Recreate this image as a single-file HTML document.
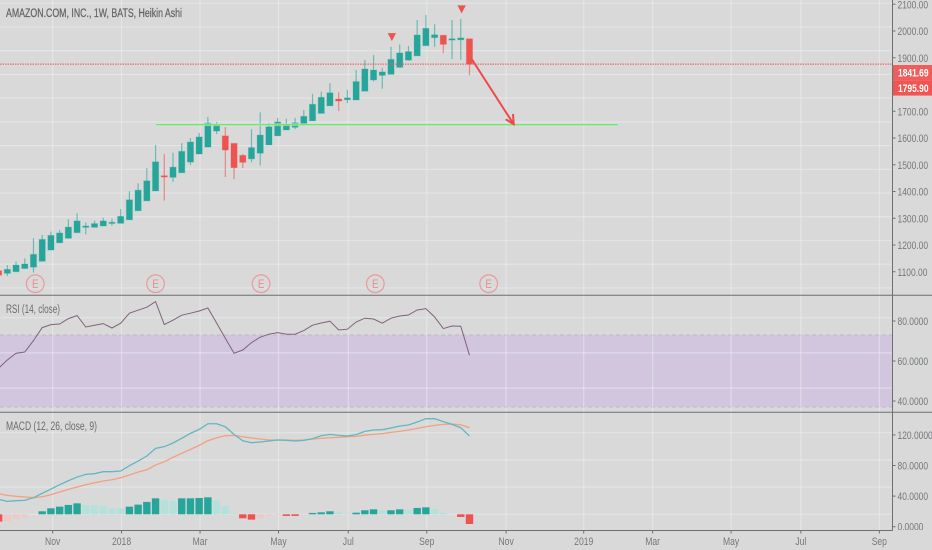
<!DOCTYPE html>
<html lang="en">
<head>
<meta charset="utf-8">
<title>AMZN Heikin Ashi chart</title>
<style>
html,body{margin:0;padding:0;background:#d9d9d9;}
#chart{display:block;width:932px;height:550px;filter:blur(0.3px);font-family:"Liberation Sans",sans-serif;}
</style>
</head>
<body>
<svg id="chart" xmlns="http://www.w3.org/2000/svg" width="932" height="550" viewBox="0 0 932 550">
  <defs>
    <clipPath id="price-clip"><rect x="0" y="0" width="932" height="295"></rect></clipPath>
    <clipPath id="macd-clip"><rect x="0" y="413" width="932" height="117"></rect></clipPath>
  </defs>
  <rect x="0" y="0" width="932" height="550" fill="#d9d9d9"></rect>
  <g id="layer-band"></g>
  <g id="layer-grid"></g>
  <g id="layer-events"></g>
  <g id="layer-candles"></g>
  <g id="layer-rsi"></g>
  <g id="layer-macd"></g>
  <g id="layer-drawings"></g>
  <g id="layer-axes"></g>
</svg>
<script>
// ---- data ----
const barHigh  = [1107,1125,1138,1150,1225,1238,1250,1256,1296,1319,1284,1291,1302,1298,1334,1401,1431,1487,1574,1540,1545,1581,1600,1619,1679,1660,1641,1580,1540,1633,1696,1657,1675,1672,1675,1705,1765,1773,1805,1771,1780,1854,1892,1910,1862,1941,1950,1944,2041,2060,2025,1985,2041,2045,1971];
const barLow   = [1084,1084,1100,1112,1097,1139,1181,1208,1225,1246,1240,1266,1271,1272,1281,1294,1328,1365,1402,1366,1436,1470,1499,1540,1566,1615,1454,1446,1488,1509,1497,1574,1608,1630,1633,1649,1664,1692,1720,1701,1730,1742,1775,1811,1784,1838,1863,1889,1907,1945,1941,1917,1895,1892,1835];
const barOpen  = [1104,1094,1100,1112,1117,1139,1181,1208,1225,1246,1266,1266,1271,1281,1281,1294,1328,1365,1402,1459,1453,1470,1510,1540,1566,1626,1608,1580,1535,1522,1543,1574,1608,1630,1640,1649,1664,1692,1720,1746,1743,1742,1775,1817,1834,1838,1864,1891,1907,1945,1975,1984,1966,1967,1971];
const barClose = [1087,1109,1125,1129,1165,1221,1236,1245,1267,1290,1271,1280,1290,1285,1307,1369,1405,1440,1511,1454,1491,1550,1585,1604,1656,1649,1555,1489,1509,1564,1611,1642,1660,1652,1657,1681,1726,1752,1769,1738,1750,1811,1858,1854,1847,1894,1918,1923,1985,2010,1986,1950,1971,1974,1876];
const rsiValues = [56.4,60.5,63.9,64.5,70.2,76.7,78.2,78.5,81.2,82.7,77,77.9,78.7,76.5,78.9,83.9,85.4,86.9,89.7,78.2,80.4,82.9,83.9,85,86.5,79,71.4,63.9,65.5,69.2,71.9,73.4,74.2,73.4,73.4,75.2,77.9,79,79.9,75.5,75.9,79.5,81.4,81,78.9,81.4,82.5,83,85.5,86.2,82,76.2,77.5,77.4,62.9];
const macdLine = [35.7,33.1,34,34.4,37.9,43.6,49.2,54.9,60.1,64.9,68.4,69.3,71.9,71.9,72.8,79.7,85.8,92.4,102.4,104.6,109.4,115.5,122,127.2,134.6,134.6,130.7,120.7,112.4,109.8,110.7,112,113.3,112.9,112,112.9,115,119,120.7,119.4,118.5,120.3,124.6,126.4,126.8,129,131.6,132.9,136.8,141.2,141.2,137.3,133.8,129.4,118.5];
const signalLine = [43.1,41,39.7,38.8,37.9,39.2,41.8,45.3,48.8,51.9,54.9,57.5,59.7,61.4,64,67.5,71.5,74.5,80.6,85,90.6,95.9,101.1,106.3,112.4,116.3,119,119.4,117.6,115.9,114.6,113.3,113.3,113.3,112.9,113.3,114.6,115.5,116.3,116.8,117.6,118.1,119.8,120.7,121.6,123.3,124.6,126.4,128.5,130.7,132.5,133.8,134.2,133.3,129.4];
const macdHist = [-10.7,-9.8,-6.8,-4.9,0,4.4,8.8,11.2,13.7,16.1,13.7,13.2,12.2,8.8,8.6,11.2,14.2,18.1,23.4,21.5,19.5,23.4,23.4,23.9,24.9,20,12.2,1.5,-5.9,-7.8,-5.9,-2,-1,-2.4,-2.4,-0.5,2,2.9,4.4,2.9,1,2.4,5.9,7.3,5.4,5.9,7.3,6.8,9.3,10.2,7.8,2.4,0,-3.9,-14.2];
const timeLabels = ["Nov","2018","Mar","May","Jul","Sep","Nov","2019","Mar","May","Jul","Sep"];
const timeIndex  = [6.2,14.1,23.1,32.1,40.1,49.1,58.2,67.1,75,84,92,101];
const priceTicks = [2100,2000,1900,1700,1600,1500,1400,1300,1200,1100,1000];
const rsiTicks   = [80,60,40];
const macdTicks  = [120,80,40,0];
const earningsIndex = [4.2,18,30.1,43.2,56.2];
const signalMarks = [{i:45.1,price:1992},{i:53.1,price:2096}];
const priceTags = ["1841.69","1795.90"];
const rsiBand = [73,37];
const supportPrice = 1650;

// ---- scales ----
const barStep = 8.72, barOrigin = -1.4;
function xAt(i){ return barOrigin + barStep * i; }
function yPrice(p){ return 31 + (2000 - p) * 0.2675; }
function yRsi(v){ return 361 - (v - 60) * 2; }
function yMacd(v){ return 526.7 - v * 0.765; }
function yHist(v){ return 514.3 - v * 0.683; }

const NS = "http://www.w3.org/2000/svg";
function make(tag, attrs, parent){
  const el = document.createElementNS(NS, tag);
  for (const k in attrs) el.setAttribute(k, attrs[k]);
  parent.appendChild(el);
  return el;
}
function label(parent, str, x, y, size, fill, sx, anchor){
  const el = make("text", {
    transform: "translate(" + x + "," + y + ") scale(" + sx + ",1)",
    "font-size": size, fill: fill, "text-anchor": anchor || "start"
  }, parent);
  el.textContent = str;
  return el;
}
const byId = function(id){ return document.getElementById(id); };
const plotRight = 892.5, paneA = 295.3, paneB = 412.3, paneC = 530.5;
const textGray = "#74787b", gridColor = "rgba(238,243,247,0.45)", up = "#26a69a", down = "#ef5350";

// ---- rsi band ----
const bandLayer = byId("layer-band");
const band = make("rect", {x:0, y:yRsi(rsiBand[0]), width:plotRight, height:yRsi(rsiBand[1]) - yRsi(rsiBand[0]), fill:"#d2c6de"}, bandLayer);


rsiBand.forEach(function(v){
  const edge = make("line", {x1:0, x2:plotRight, y1:yRsi(v), y2:yRsi(v), stroke:"#c2b5c8", "stroke-dasharray":"4 3", "stroke-width":1}, bandLayer);
  
  
});

// ---- grid ----
const gridLayer = byId("layer-grid");
function hGrid(top, step, count, name){
  for (let k = 0; k < count; k++){
    const g = make("line", {x1:0, x2:plotRight, y1:top + step * k, y2:top + step * k, stroke:gridColor, "stroke-width":1.2}, gridLayer);
    
    
  }
}
hGrid(3.2, 23.73, 13, "price-grid-line");
hGrid(317.7, 35.2, 3, "rsi-grid-line");
hGrid(432.7, 27.2, 4, "macd-grid-line");
timeIndex.forEach(function(ti){
  const g = make("line", {x1:xAt(ti), x2:xAt(ti), y1:0, y2:paneC, stroke:gridColor, "stroke-width":1.2}, gridLayer);
  
  
});

// ---- earnings markers ----
const evLayer = byId("layer-events");
earningsIndex.forEach(function(ei){
  const cx = xAt(ei);
  const c = make("circle", {cx:cx, cy:283.7, r:8.8, fill:"none", stroke:"#e89b9d", "stroke-width":1.2}, evLayer);
  
  
  const t = label(evLayer, "E", cx, 287.8, 11.5, "#e58f90", 0.85, "middle");
  
  
});

// ---- candles ----
const candleLayer = make("g", {"clip-path":"url(#price-clip)"}, byId("layer-candles"));


barClose.forEach(function(cl, i){
  const op = barOpen[i], color = cl >= op ? up : down, x = xAt(i);
  const top = yPrice(Math.max(op, cl)), bot = yPrice(Math.min(op, cl));
  const w = make("line", {x1:x, x2:x, y1:yPrice(barHigh[i]), y2:yPrice(barLow[i]), stroke:color, "stroke-opacity":0.62, "stroke-width":1.2}, candleLayer);
  
  
  const b = make("rect", {x:x - 3.1, y:top, width:6.2, height:Math.max(bot - top, 1.2), fill:color, stroke:color, "stroke-opacity":0.25, "stroke-width":1}, candleLayer);
  
  
});

// ---- rsi line ----
const rsiLayer = byId("layer-rsi");
const rsiPath = make("polyline", {points:rsiValues.map(function(v, i){ return xAt(i) + "," + yRsi(v); }).join(" "), fill:"none", stroke:"#80627c", "stroke-width":1}, rsiLayer);



// ---- macd ----
const macdLayer = make("g", {"clip-path":"url(#macd-clip)"}, byId("layer-macd"));


macdHist.forEach(function(h, i){
  if (h === 0) return;
  const prev = i > 0 ? macdHist[i - 1] : h;
  let fill;
  if (h > 0) fill = h >= prev ? "#26a69a" : "#b4e2da";
  else fill = h <= prev ? "#ef5350" : "#eec9c8";
  const y0 = yHist(0), y1 = yHist(h);
  const bar = make("rect", {x:xAt(i) - 3.7, y:Math.min(y0, y1), width:7.4, height:Math.abs(y1 - y0), fill:fill}, macdLayer);
  
  
});
const sigPath = make("polyline", {points:signalLine.map(function(v, i){ return xAt(i) + "," + yMacd(v); }).join(" "), fill:"none", stroke:"#f4a07e", "stroke-width":1.3}, macdLayer);


const macPath = make("polyline", {points:macdLine.map(function(v, i){ return xAt(i) + "," + yMacd(v); }).join(" "), fill:"none", stroke:"#62b7c0", "stroke-width":1.3}, macdLayer);



// ---- drawings ----
const drawLayer = byId("layer-drawings");
const lastClose = barClose[barClose.length - 1];
const priceLine = make("line", {x1:0, x2:plotRight, y1:yPrice(lastClose), y2:yPrice(lastClose), stroke:"#ef5350", "stroke-width":1, "stroke-dasharray":"1.5 1"}, drawLayer);


const supportHalo = make("line", {x1:156, x2:618, y1:yPrice(supportPrice), y2:yPrice(supportPrice), stroke:"#e8eee8", "stroke-opacity":0.5, "stroke-width":3}, drawLayer);


const support = make("line", {x1:156, x2:618, y1:yPrice(supportPrice), y2:yPrice(supportPrice), stroke:"#76e276", "stroke-width":1.5}, drawLayer);


const arrow = make("path", {d:"M472 59.5L513.7 124.3M513 114L513.7 124.3L505.7 119.3", fill:"none", stroke:"#f0484a", "stroke-width":2}, drawLayer);


signalMarks.forEach(function(m){
  const x = xAt(m.i), y = yPrice(m.price);
  const tri = make("path", {d:"M" + (x - 4.2) + " " + y + "L" + (x + 4.2) + " " + y + "L" + x + " " + (y + 8) + "Z", fill:"#ef5350"}, drawLayer);
  
  
});

// ---- axes ----
const axes = byId("layer-axes");
function rule(x1, y1, x2, y2, name){
  const l = make("line", {x1:x1, y1:y1, x2:x2, y2:y2, stroke:"#6f6f6f", "stroke-width":1}, axes);
  
  
}
rule(plotRight, 0, plotRight, paneC, "price-axis-line");
rule(0, paneA, 932, paneA, "pane-separator-rsi");
rule(0, paneB, 932, paneB, "pane-separator-macd");
rule(0, paneC, plotRight, paneC, "time-axis-line");

const priceTickGroup = make("g", {"clip-path":"url(#price-clip)"}, axes);


priceTicks.forEach(function(p){
  const y = yPrice(p);
  const tk = make("line", {x1:plotRight, x2:plotRight + 3, y1:y, y2:y, stroke:"#6f6f6f"}, priceTickGroup);
  
  
  const t = label(priceTickGroup, p.toFixed(2), 897.5, y + 4, 11, textGray, 0.77);
  
  
});
rsiTicks.forEach(function(v){
  const y = yRsi(v);
  const tk = make("line", {x1:plotRight, x2:plotRight + 3, y1:y, y2:y, stroke:"#6f6f6f"}, axes);
  
  
  const t = label(axes, v.toFixed(4), 897.5, y + 4, 11, textGray, 0.77);
  
  
});
const macdTickGroup = make("g", {"clip-path":"url(#macd-clip)"}, axes);


macdTicks.forEach(function(v){
  const y = yMacd(v);
  const tk = make("line", {x1:plotRight, x2:plotRight + 3, y1:y, y2:y, stroke:"#6f6f6f"}, macdTickGroup);
  
  
  const t = label(macdTickGroup, v.toFixed(4), 897.5, y + 4, 11, textGray, 0.77);
  
  
});
timeLabels.forEach(function(s, i){
  const x = xAt(timeIndex[i]);
  const tk = make("line", {x1:x, x2:x, y1:paneC, y2:paneC + 3, stroke:"#6f6f6f"}, axes);
  
  
  const t = label(axes, s, x, 545, 11, textGray, 0.78, "middle");
  
  
});

// price tags
priceTags.forEach(function(s, i){
  const top = 65 + 15.3 * i;
  const box = make("rect", {x:893, y:top, width:39, height:15.3, fill:i === 0 ? "#ee5e5c" : "#f15553"}, axes);
  
  
  const t = label(axes, s, 898, top + 11.5, 11, "#ffffff", 0.77);
  t.setAttribute('font-weight', '700');
  
  
});

// pane titles
const title = label(axes, "AMAZON.COM, INC., 1W, BATS, Heikin Ashi", 6, 17, 11.5, "#646464", 1);
title.setAttribute('textLength', '176');
title.setAttribute('lengthAdjust', 'spacingAndGlyphs');
title.setAttribute('stroke', '#646464');
title.setAttribute('stroke-width', '0.25');


const rsiTitle = label(axes, "RSI (14, close)", 6, 313, 11.5, "#6c6c6c", 1);
rsiTitle.setAttribute('textLength', '54');
rsiTitle.setAttribute('lengthAdjust', 'spacingAndGlyphs');


const macdTitle = label(axes, "MACD (12, 26, close, 9)", 6, 430, 11.5, "#6c6c6c", 1);
macdTitle.setAttribute('textLength', '91');
macdTitle.setAttribute('lengthAdjust', 'spacingAndGlyphs');


</script>
</body>
</html>
